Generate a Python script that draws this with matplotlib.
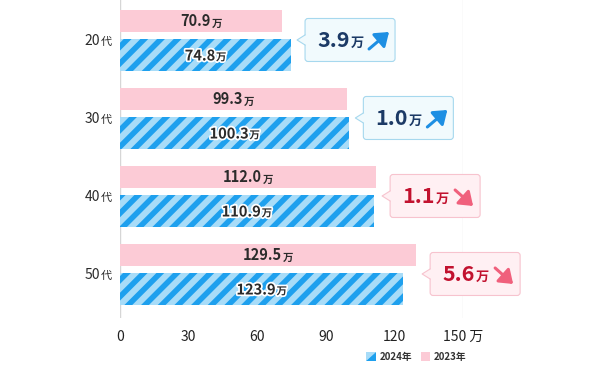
import numpy as np
import matplotlib
matplotlib.use('Agg')
import matplotlib.pyplot as plt
import matplotlib.patheffects as pe
from matplotlib.patches import FancyBboxPatch, Polygon, FancyArrowPatch, Patch
from matplotlib.lines import Line2D
from matplotlib.transforms import IdentityTransform
from matplotlib.legend_handler import HandlerBase

plt.rcParams['font.family'] = ['Noto Sans CJK JP', 'DejaVu Sans']
plt.rcParams['hatch.linewidth'] = 4.0

#%% data
ages = ['20', '30', '40', '50']
val_2023 = [70.9, 99.3, 112.0, 129.5]
val_2024 = [74.8, 100.3, 110.9, 123.9]
diffs = ['3.9', '1.0', '1.1', '5.6']
going_up = [True, True, False, False]
xticks = [0, 30, 60, 90, 120, 150]
xticklabels = ['0', '30', '60', '90', '120', '150 万']

#%% colours
PINK = '#fccbd6'
BLUE = '#1ea0ee'
LBLUE = '#a8dcf8'
TXT = '#2b2b2b'
UP_FC, UP_EC, UP_TXT, UP_ARW = '#f1fafd', '#a6d8ee', '#1c3a66', '#1e8fe3'
DN_FC, DN_EC, DN_TXT, DN_ARW = '#fff0f3', '#f7c3ce', '#c2122f', '#f0607c'

fig = plt.figure(figsize=(6.02, 3.65), dpi=100)
ax = fig.add_axes([120/602, 1 - 318/365, 343/602, 318/365])
ID = IdentityTransform()

y = np.arange(len(ages))
ax.barh(y - 0.25, val_2023, height=0.282, color=PINK, lw=0, zorder=2)
ax.barh(y + 0.186, val_2024, height=0.41, facecolor=LBLUE, edgecolor=BLUE,
        hatch='//', lw=0, zorder=2)

ax.set_xlim(0, 150)
ax.set_ylim(3.558, -0.519)
for s in ax.spines.values():
    s.set_visible(False)
ax.axvline(0, color='#d6d6d6', lw=1, zorder=1)
ax.axvline(150, color='#e6e6e6', lw=1, zorder=1)
ax.set_xticks(xticks, xticklabels)
ax.tick_params(axis='x', length=0, pad=8.5, labelsize=10, labelcolor='#222222')
ax.set_yticks([])

r = fig.canvas.get_renderer()


def pair(px, py, big, small, big_kw, small_kw, align='center', gap=1):
    # two texts on one baseline, positions in display pixels
    t1 = fig.text(px, py, big, transform=ID, ha='left', va='baseline', **big_kw)
    t2 = fig.text(px, py, small, transform=ID, ha='left', va='baseline', **small_kw)
    w1 = t1.get_window_extent(r).width
    w2 = t2.get_window_extent(r).width
    tot = w1 + gap + w2
    if align == 'center':
        x0 = px - tot / 2
    elif align == 'right':
        x0 = px - tot
    else:
        x0 = px
    t1.set_position((x0, py))
    t2.set_position((x0 + w1 + gap, py))
    return t1, t2


halo = [pe.withStroke(linewidth=2.5, foreground='white')]

for i, age in enumerate(ages):
    # age label
    px, py = ax.transData.transform((0, i))
    pair(px - 8, py - 4.5, age, '代',
         dict(fontsize=10, color=TXT), dict(fontsize=8, color=TXT), align='right')

    # bar labels
    v23, v24 = val_2023[i], val_2024[i]
    px, py = ax.transData.transform((v23 / 2, i - 0.25))
    pair(px, py - 5.5, f'{v23:.1f}', '万',
         dict(fontsize=10.5, fontweight='bold', color=TXT),
         dict(fontsize=7.5, fontweight='bold', color=TXT))
    px, py = ax.transData.transform((v24 / 2, i + 0.186))
    pair(px, py - 5.5, f'{v24:.1f}', '万',
         dict(fontsize=10.5, fontweight='bold', color=TXT, path_effects=halo),
         dict(fontsize=7.5, fontweight='bold', color=TXT, path_effects=halo))

    # callout
    if going_up[i]:
        fc, ec, tc, ac = UP_FC, UP_EC, UP_TXT, UP_ARW
    else:
        fc, ec, tc, ac = DN_FC, DN_EC, DN_TXT, DN_ARW
    px, py = ax.transData.transform((max(v23, v24), i))
    tip = px + 6
    L = tip + 8
    W, H = 90, 43
    cy = py + 0.5
    fig.add_artist(FancyBboxPatch((L, cy - H / 2), W, H,
                                  boxstyle='round,pad=0,rounding_size=3',
                                  fc=fc, ec=ec, lw=0.8, transform=ID))
    fig.add_artist(Polygon([[L + 1.5, cy + 5.5], [tip, cy], [L + 1.5, cy - 5.5]],
                           closed=True, fc=fc, ec='none', transform=ID))
    fig.add_artist(Line2D([L, tip, L], [cy + 5, cy, cy - 5], color=ec, lw=0.8,
                          transform=ID))
    pair(L + 12, cy - 7, diffs[i], '万',
         dict(fontsize=15.5, fontweight='bold', color=tc),
         dict(fontsize=9.5, fontweight='bold', color=tc), align='left', gap=1)
    if going_up[i]:
        a0, a1 = (L + 64, cy - 9), (L + 84, cy + 8)
    else:
        a0, a1 = (L + 65, cy + 6), (L + 83, cy - 10)
    fig.add_artist(FancyArrowPatch(a0, a1, arrowstyle='-|>,head_length=0.55,head_width=0.4',
                                   mutation_scale=14, lw=2.2, color=ac,
                                   shrinkA=0, shrinkB=0, transform=ID))


#%% legend
class SplitHandler(HandlerBase):
    def create_artists(self, legend, orig_handle, xdescent, ydescent,
                       width, height, fontsize, trans):
        x0, y0 = -xdescent, -ydescent
        light = Polygon([[x0, y0], [x0, y0 + height], [x0 + width, y0 + height]],
                        fc=LBLUE, ec='none', transform=trans)
        dark = Polygon([[x0, y0], [x0 + width, y0], [x0 + width, y0 + height]],
                       fc=BLUE, ec='none', transform=trans)
        return [light, dark]


h24 = Patch(label='2024年')
h23 = Patch(fc=PINK, ec='none', label='2023年')
leg = fig.legend(handles=[h24, h23], handler_map={h24: SplitHandler()}, ncol=2,
                 loc='center', bbox_to_anchor=(416.5 / 602, 1 - 357 / 365),
                 frameon=False, prop=dict(size=7, weight='bold'),
                 handlelength=0.95, handleheight=0.95, handletextpad=0.4,
                 columnspacing=0.9, borderpad=0)
for t in leg.get_texts():
    t.set_color('#333333')

fig.savefig('out.png', dpi=100)
